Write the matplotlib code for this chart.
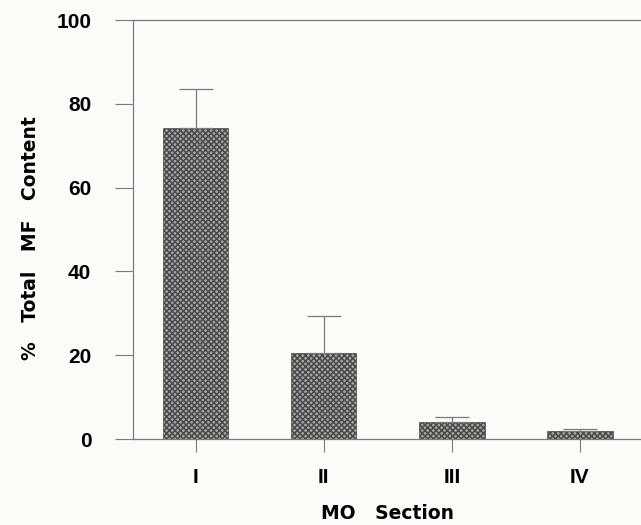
import matplotlib

matplotlib.use("Agg")
import matplotlib.pyplot as plt
import numpy as np

# Values
sections = ["I", "II", "III", "IV"]
mf_content = [74.2, 20.5, 4.1, 1.9]
mf_error = [9.3, 8.9, 1.2, 0.5]

plt.rcParams["font.family"] = ["Liberation Sans", "DejaVu Sans"]
plt.rcParams["font.weight"] = "bold"
plt.rcParams["hatch.color"] = "#1e1e1e"
plt.rcParams["hatch.linewidth"] = 1.1

bg = "#fdfbf8"
line = "#7a7a7a"

fig = plt.figure(figsize=(6.41, 5.25), dpi=100, facecolor=bg)
ax = fig.add_axes([0.2075, 0.1638, 0.7925, 0.7981], facecolor=bg)

x = np.arange(len(sections))
ax.bar(x, mf_content, width=0.51, color="#a8a8a8", edgecolor="#4a4a4a",
       linewidth=0.5, hatch="xxxxxx", zorder=2)
ax.errorbar(x, mf_content, yerr=[np.zeros(len(x)), mf_error], fmt="none",
            ecolor=line, elinewidth=0.9, capsize=12, capthick=0.9, zorder=3)

ax.set_xlim(-0.49, 3.477)
ax.set_ylim(0, 100)
ax.set_yticks([0, 20, 40, 60, 80, 100])
ax.set_xticks(x)
ax.set_xticklabels(sections)

for side in ["left", "bottom", "top"]:
    ax.spines[side].set_color(line)
    ax.spines[side].set_linewidth(0.9)
ax.spines["right"].set_visible(False)

ax.tick_params(axis="y", direction="out", length=13, width=0.8, color=line,
               pad=17, labelsize=15)
ax.tick_params(axis="x", direction="out", length=9, width=0.8, color=line,
               pad=12, labelsize=15)
for lab in ax.get_xticklabels() + ax.get_yticklabels():
    lab.set_fontweight("bold")

label_font = {"family": ["DejaVu Sans"], "size": 13.5, "weight": "bold"}
ax.set_ylabel("%   Total   MF   Content", fontdict=label_font)
ax.yaxis.set_label_coords(-0.183, 0.48)
ax.set_xlabel("MO   Section", fontdict=label_font, labelpad=12)

fig.savefig("out.png", dpi=100, facecolor=bg)
